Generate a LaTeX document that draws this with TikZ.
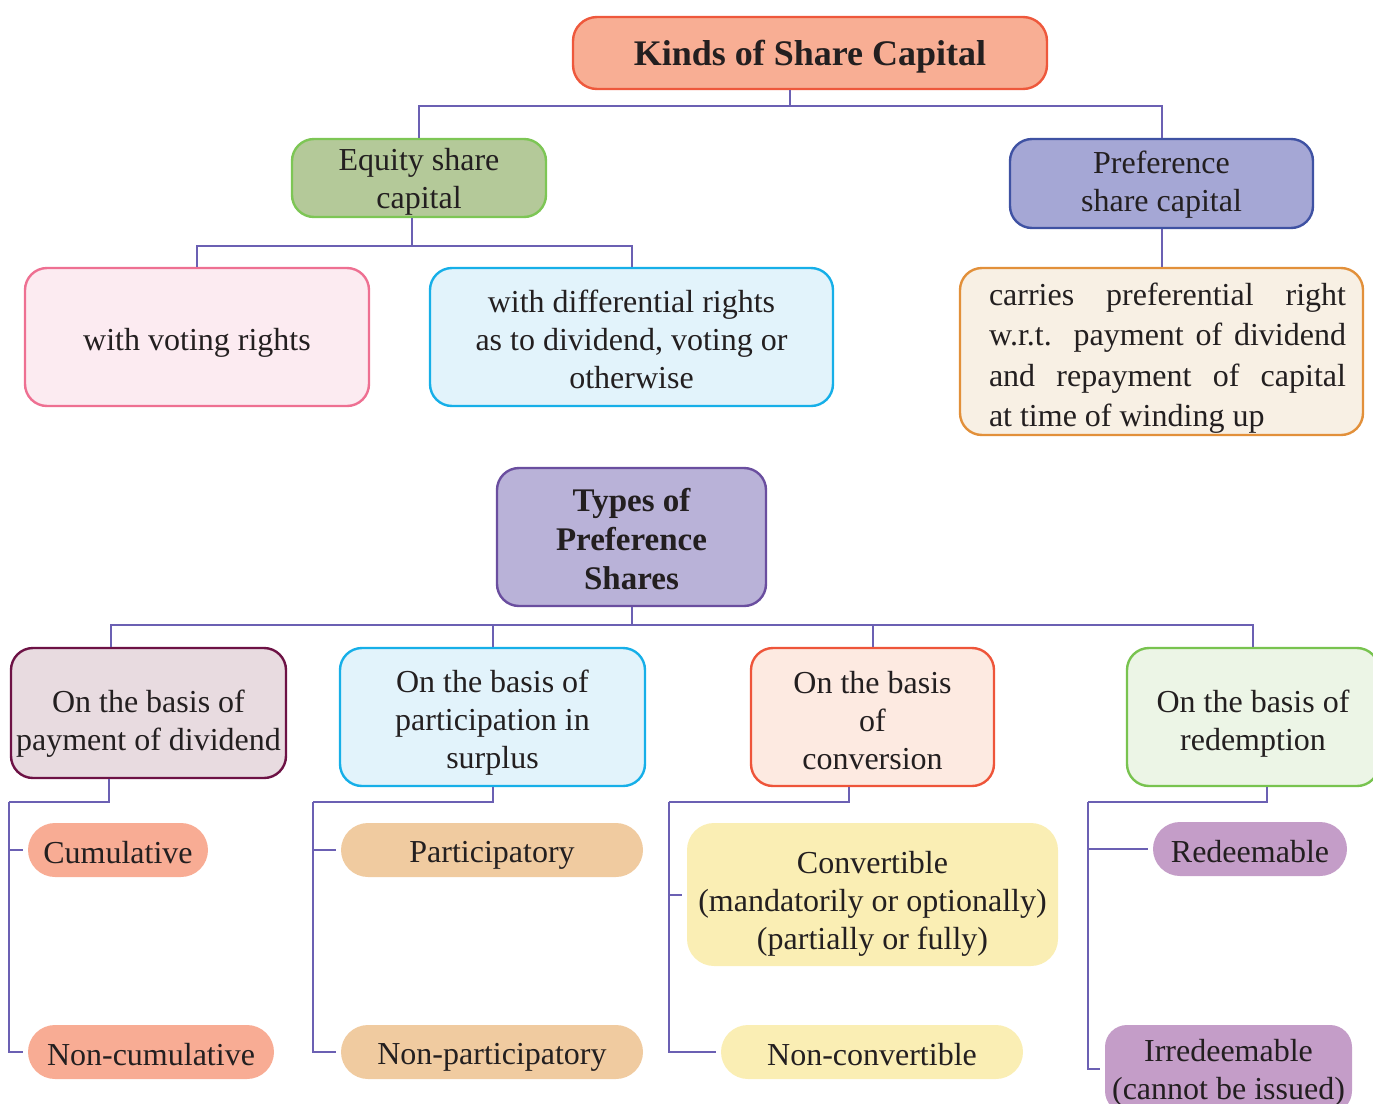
\documentclass[tikz,border=0pt]{standalone}
\usepackage{fontspec}
\setmainfont{Liberation Serif}
\usepackage{xcolor}
\definecolor{linkcolor}{HTML}{6B60B3}
\definecolor{inkcolor}{HTML}{231F20}
\definecolor{titlefill}{HTML}{F8AE94}
\definecolor{titleline}{HTML}{EE583C}
\definecolor{equityfill}{HTML}{B4C999}
\definecolor{equityline}{HTML}{7DC655}
\definecolor{preffill}{HTML}{A5A7D5}
\definecolor{prefline}{HTML}{3F52A3}
\definecolor{votefill}{HTML}{FCEBF1}
\definecolor{voteline}{HTML}{EE7092}
\definecolor{bluefill}{HTML}{E2F3FB}
\definecolor{blueline}{HTML}{16AFE8}
\definecolor{carryfill}{HTML}{F8F0E4}
\definecolor{carryline}{HTML}{E2903A}
\definecolor{typesfill}{HTML}{B9B2D8}
\definecolor{typesline}{HTML}{6A4E9F}
\definecolor{divfill}{HTML}{E8DBE0}
\definecolor{divline}{HTML}{6D1245}
\definecolor{convfill}{HTML}{FDEAE1}
\definecolor{convline}{HTML}{EE553A}
\definecolor{redfill}{HTML}{ECF5E6}
\definecolor{redline}{HTML}{78C34F}
\definecolor{cumfill}{HTML}{F8AC94}
\definecolor{partfill}{HTML}{F0CBA0}
\definecolor{cvfill}{HTML}{FAEEB4}
\definecolor{rdfill}{HTML}{C49DC8}
\def\dropht{14pt}
\newcommand\dn{\rule{0pt}{\dropht}}
\newcommand\ind{\hspace*{6pt}}
\tikzset{drop/.code={\def\dropht{#1}},box/.style={draw,line width=1.2pt,rounded corners=11pt,align=center,inner sep=2pt,text=inkcolor,font=\fontsize{16}{19}\selectfont},head/.style={box,font=\fontsize{16.5}{19.5}\selectfont\bfseries},pill/.style={box,draw=none,rounded corners=13.5pt,minimum height=27pt},link/.style={draw=linkcolor,line width=1pt},tick/.style={link,shorten >=2pt}}
\begin{document}
\begin{tikzpicture}[x=0.5pt,y=-0.5pt]
 \useasboundingbox (0,0) rectangle (1373,1104);
 \node[head,draw=titleline,fill=titlefill,minimum width=237pt,minimum height=36pt,rounded corners=12pt,font=\fontsize{18}{22}\selectfont\bfseries,drop=16.5pt] (kinds) at (810,53) {\dn Kinds of Share Capital};
 \node[box,draw=equityline,fill=equityfill,minimum width=127pt,minimum height=39pt,inner sep=0pt,drop=15pt] (equity) at (419,178) {\dn Equity share\\capital};
 \node[box,draw=prefline,fill=preffill,minimum width=151.5pt,minimum height=44.5pt,drop=12pt] (pref) at (1161.5,183.5) {\dn Preference\\share capital};
 \node[box,draw=voteline,fill=votefill,minimum width=172pt,minimum height=69pt,drop=17pt] (voting) at (197,337) {\dn with voting rights};
 \node[box,draw=blueline,fill=bluefill,minimum width=201.5pt,minimum height=69pt] (differential) at (631.5,337) {\dn with differential rights\\as to dividend, voting or\\otherwise};
 \node[box,draw=carryline,fill=carryfill,minimum width=201.5pt,minimum height=83.5pt,text width=184.5pt,inner sep=0pt,align=justify,font=\fontsize{16}{20.3}\selectfont,drop=18pt] (carries) at (1161.5,351.5) {\ind\dn carries preferential right\linebreak\ind w.r.t. payment of dividend\linebreak\ind and repayment of capital\linebreak\ind at time of winding up};
 \node[head,draw=typesline,fill=typesfill,minimum width=134.5pt,minimum height=69pt] (types) at (631.5,537) {\dn Types of\\Preference\\Shares};
 \node[box,draw=divline,fill=divfill,minimum width=137.5pt,minimum height=65pt,inner sep=1pt,drop=22pt] (dividend) at (148.5,713) {\dn On the basis of\\payment of dividend};
 \node[box,draw=blueline,fill=bluefill,minimum width=152.5pt,minimum height=69pt,drop=17pt] (participation) at (492.5,717) {\dn On the basis of\\participation in\\surplus};
 \node[box,draw=convline,fill=convfill,minimum width=121.5pt,minimum height=69pt,drop=15pt] (conversion) at (872.5,717) {\dn On the basis\\of\\conversion};
 \node[box,draw=redline,fill=redfill,minimum width=126pt,minimum height=69pt,drop=18pt] (redemption) at (1253,717) {\dn On the basis of\\redemption};
 \node[pill,fill=cumfill,minimum width=90pt] (cum) at (118,850) {\dn Cumulative};
 \node[pill,fill=cumfill,minimum width=123pt] (noncum) at (151,1052) {\dn Non-cumulative};
 \node[pill,fill=partfill,minimum width=151pt,drop=16pt] (part) at (492,850) {\dn Participatory};
 \node[pill,fill=partfill,minimum width=151pt,drop=16pt] (nonpart) at (492,1052) {\dn Non-participatory};
 \node[pill,fill=cvfill,minimum width=185.5pt,minimum height=71.5pt,drop=20pt] (conv) at (872.5,894.5) {\dn Convertible\\(mandatorily or optionally)\\(partially or fully)};
 \node[pill,fill=cvfill,minimum width=151pt] (nonconv) at (872,1052) {\dn Non-convertible};
 \node[pill,fill=rdfill,minimum width=97pt] (redeem) at (1250,849) {\dn Redeemable};
 \node[pill,fill=rdfill,minimum width=123.5pt,minimum height=44pt,rounded corners=11pt,drop=15pt] (irredeem) at (1228.5,1069) {\dn Irredeemable\\(cannot be issued)};
 \draw[link] ([xshift=-10pt]kinds.south) -- ++(0,16) -| (equity.north);
 \draw[link] ([xshift=-10pt]kinds.south) -- ++(0,16) -| (pref.north);
 \draw[link] ([xshift=-3.5pt]equity.south) -- ++(0,28) -| (voting.north);
 \draw[link] ([xshift=-3.5pt]equity.south) -- ++(0,28) -| (differential.north);
 \draw[link] (pref.south) -- (carries.north);
 \foreach \g/\dx in {dividend/-18.75pt,participation/0pt,conversion/0pt,redemption/0pt}
   \draw[link] (types.south) -- ++(0,18) -| ([xshift=\dx]\g.north);
 \foreach \g/\dx/\bx/\a/\b in {dividend/-19.75pt/9/cum/noncum,participation/0pt/313/part/nonpart,conversion/-11.75pt/669/conv/nonconv,redemption/7pt/1088/redeem/irredeem} {
   \coordinate (bus-\g) at (\bx,802);
   \draw[link] ([xshift=\dx]\g.south) |- (bus-\g);
   \draw[tick] (bus-\g) |- (\b.west);
   \draw[tick] (bus-\g |- \a.west) -- (\a.west);
 }
\end{tikzpicture}
\end{document}
